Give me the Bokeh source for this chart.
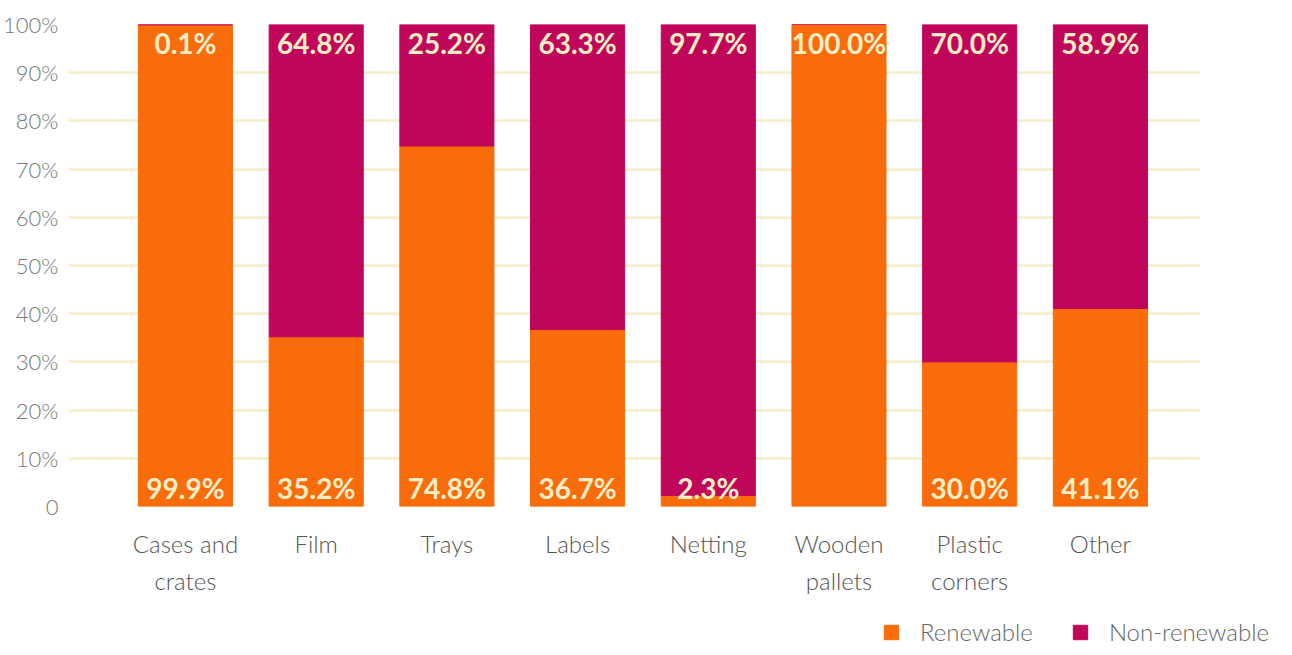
from bokeh.plotting import figure
from bokeh.layouts import column
from bokeh.models import (ColumnDataSource, Range1d, FixedTicker, LinearAxis,
                          Legend, LegendItem, BoxAnnotation)
from bokeh.core.properties import value
from bokeh.embed import file_html
from bokeh.resources import INLINE

categories_line1 = ["Cases and", "Film", "Trays", "Labels", "Netting", "Wooden", "Plastic", "Other"]
categories_line2 = ["crates", "", "", "", "", "pallets", "corners", ""]
renewable = [99.9, 35.2, 74.8, 36.7, 2.3, 100.0, 30.0, 41.1]
non_renewable = [0.1, 64.8, 25.2, 63.3, 97.7, 0.0, 70.0, 58.9]
series_names = ["Renewable", "Non-renewable"]
y_ticks = [0, 10, 20, 30, 40, 50, 60, 70, 80, 90, 100]
y_tick_labels = ["0", "10%", "20%", "30%", "40%", "50%", "60%", "70%", "80%", "90%", "100%"]

ORANGE = "#F86C0C"
MAGENTA = "#C0065A"
CREAM = "#F7EEC6"
GRID = "#F5EDC9"
LIGHT_FONT = "Lato Light"
BOLD_FONT = "Lato"

X_START = -0.895        # left edge of the plot area (category units)
GRID_END = 7.766        # where the horizontal grid lines stop
X_END = 8.378           # frame extends further right to hold the legend

xs = list(range(len(renewable)))
top_labels = [f"{n:.1f}%" if n > 0 else f"{r:.1f}%" for r, n in zip(renewable, non_renewable)]
bottom_labels = [f"{r:.1f}%" if n > 0 else "" for r, n in zip(renewable, non_renewable)]

src = ColumnDataSource(dict(x=xs, ren=renewable, non=non_renewable,
                            top_lab=top_labels, bot_lab=bottom_labels,
                            total=[r + n for r, n in zip(renewable, non_renewable)],
                            zero=[0] * len(xs)))

p = figure(frame_width=1212, frame_height=482, output_backend="svg", toolbar_location=None,
           x_range=Range1d(X_START, X_END), y_range=Range1d(0, 100),
           min_border_left=60, min_border_top=24, min_border_right=0, min_border_bottom=0,
           x_axis_type=None)
p.outline_line_color = None
p.background_fill_color = "white"
p.border_fill_color = "white"

p.vbar(x="x", bottom="zero", top="ren", width=0.72, color=ORANGE, source=src)
p.vbar(x="x", bottom="ren", top="total", width=0.72, color=MAGENTA, source=src)

p.text(x="x", y="zero", text="bot_lab", source=src, text_align="center", text_baseline="bottom",
       y_offset=-2, text_color=CREAM, text_font=value(BOLD_FONT), text_font_style="bold",
       text_font_size="28px")
p.text(x="x", y="total", text="top_lab", source=src, text_align="center", text_baseline="top",
       y_offset=1, text_color=CREAM, text_font=value(BOLD_FONT), text_font_style="bold",
       text_font_size="28px")

# white mask so the grid lines stop where the reference's plot area ends
p.add_layout(BoxAnnotation(left=GRID_END, fill_color="white", fill_alpha=1.0,
                           line_color=None, level="underlay"))

ya = p.yaxis[0]
ya.ticker = FixedTicker(ticks=y_ticks)
ya.major_label_overrides = {t: l for t, l in zip(y_ticks, y_tick_labels)}
ya.axis_line_color = None
ya.major_tick_line_color = None
ya.minor_tick_line_color = None
ya.major_tick_out = 0
ya.major_label_text_font = LIGHT_FONT
ya.major_label_text_font_size = "22px"
ya.major_label_text_color = "#777777"
ya.major_label_standoff = 10

p.xgrid.visible = False
p.ygrid.ticker = FixedTicker(ticks=y_ticks)
p.ygrid.grid_line_color = GRID
p.ygrid.grid_line_width = 2.5

for labels, standoff in [(categories_line1, 16), (categories_line2, -1)]:
    ax = LinearAxis(ticker=FixedTicker(ticks=xs),
                    major_label_overrides={x: l for x, l in zip(xs, labels)})
    ax.axis_line_color = None
    ax.major_tick_line_color = None
    ax.minor_tick_line_color = None
    ax.major_label_text_font = LIGHT_FONT
    ax.major_label_text_font_size = "24px"
    ax.major_label_text_color = "#555555"
    ax.major_label_standoff = standoff
    p.add_layout(ax, "below")

# legend strip below the chart
p2 = figure(width=1272, height=50, output_backend="svg", toolbar_location=None,
            x_range=Range1d(0, 1), y_range=Range1d(0, 1), x_axis_type=None, y_axis_type=None,
            min_border_left=0, min_border_right=0, min_border_top=0, min_border_bottom=0)
p2.outline_line_color = None
p2.xgrid.visible = False
p2.ygrid.visible = False
lr1 = p2.vbar(x=[0.5], bottom=[0], top=[0], width=0, color=ORANGE)
lr2 = p2.vbar(x=[0.5], bottom=[0], top=[0], width=0, color=MAGENTA)
legend = Legend(items=[LegendItem(label=series_names[0], renderers=[lr1]),
                       LegendItem(label=series_names[1], renderers=[lr2])],
                orientation="horizontal", location=(814, 1),
                glyph_width=18, glyph_height=18, label_standoff=20, spacing=38,
                padding=0, margin=0, border_line_color=None, background_fill_alpha=0,
                label_text_font=LIGHT_FONT, label_text_font_size="24px",
                label_text_color="#666666", label_height=18)
p2.add_layout(legend, "center")

layout = column(p, p2, spacing=0)
open("out.html", "w").write(file_html(layout, INLINE))
